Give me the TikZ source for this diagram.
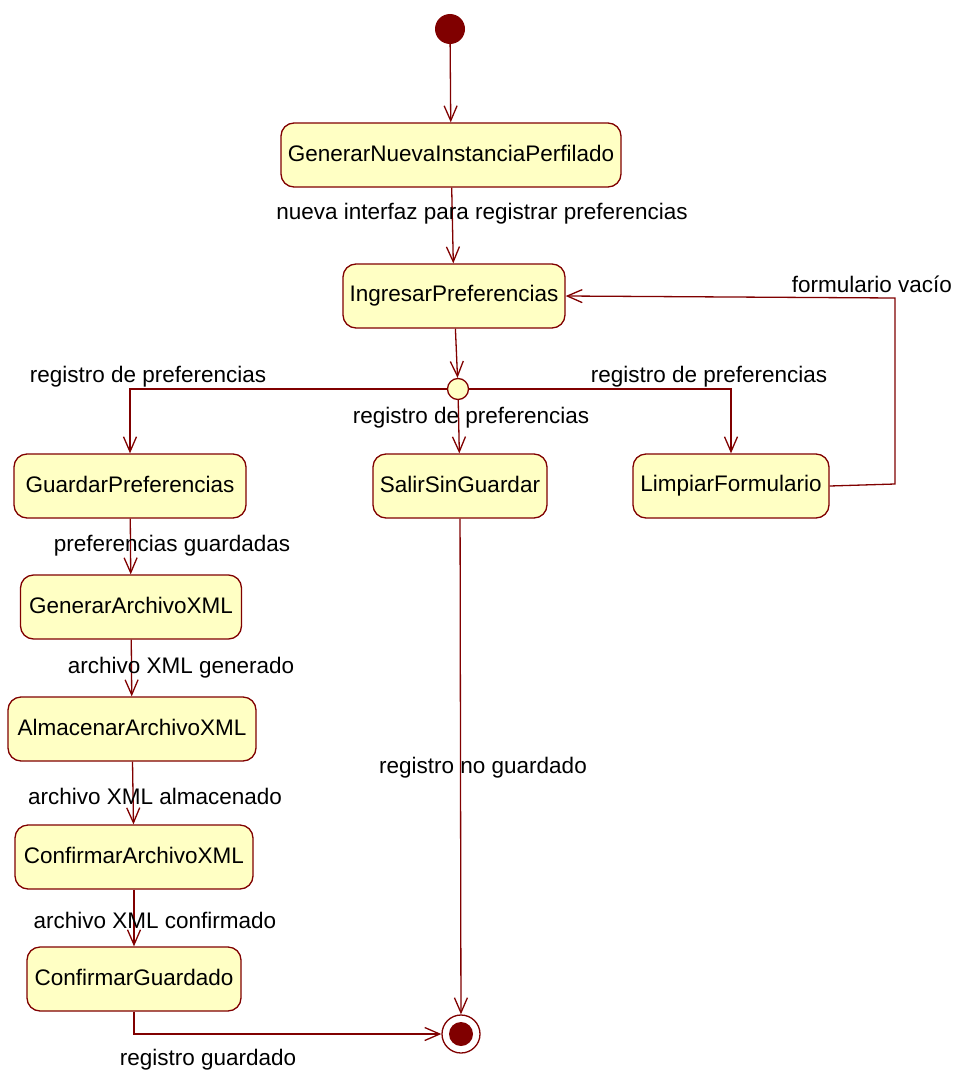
\documentclass[tikz,border=0pt]{standalone}
\usepackage{fontspec}
\setmainfont{Liberation Sans}
\usetikzlibrary{arrows.meta}
\definecolor{umlred}{HTML}{800000}
\definecolor{umlfill}{HTML}{FFFFC4}
\newcommand{\stxt}[1]{\raisebox{4pt}{#1}}
\begin{document}
\begin{tikzpicture}[x=1pt,y=-1pt,
  every node/.style={font=\fontsize{22.5}{26}\selectfont},
  state/.style={draw=umlred, line width=1.3pt, fill=umlfill, rounded corners=13pt, minimum height=64pt, inner sep=0pt},
  lbl/.style={inner sep=0pt, anchor=center},
  conn/.style={draw=umlred, line width=1.3pt, -{Straight Barb[length=15pt,width=13pt,line width=1.3pt]}}
]
\useasboundingbox (0,0) rectangle (969,1073);
% nodes
\node[circle, fill=umlred, minimum size=30pt, inner sep=0pt] (ini) at (450,29) {};
\node[state, minimum width=340pt] (gen) at (451,155) {\stxt{GenerarNuevaInstanciaPerfilado}};
\node[state, minimum width=222pt] (ing) at (454,296) {\stxt{IngresarPreferencias}};
\node[circle, draw=umlred, line width=1.3pt, fill=umlfill, minimum size=21pt, inner sep=0pt] (dec) at (458,389) {};
\node[state, minimum width=232pt] (gua) at (130,486) {\stxt{GuardarPreferencias}};
\node[state, minimum width=174pt] (sal) at (460,486) {\stxt{SalirSinGuardar}};
\node[state, minimum width=196pt] (lim) at (731,486) {\stxt{LimpiarFormulario}};
\node[state, minimum width=221pt] (gxml) at (131,607) {\stxt{GenerarArchivoXML}};
\node[state, minimum width=248pt] (axml) at (132,729) {\stxt{AlmacenarArchivoXML}};
\node[state, minimum width=238pt] (cxml) at (134,857) {\stxt{ConfirmarArchivoXML}};
\node[state, minimum width=214pt] (cg) at (134,979) {\stxt{ConfirmarGuardado}};
\node[circle, draw=umlred, line width=1.3pt, fill=white, minimum size=38pt, inner sep=0pt] (fin) at (461,1034) {};
\node[circle, fill=umlred, minimum size=24pt, inner sep=0pt] (finin) at (461,1034) {};
% connectors
\draw[conn] (ini) -- (gen);
\draw[conn] (gen) -- (ing);
\draw[conn] (ing) -- (dec);
\draw[conn] (dec.west) -| (gua.north);
\draw[conn] (dec) -- (sal);
\draw[conn] (dec.east) -| (lim.north);
\coordinate (lr1) at (895,484);
\coordinate (lr2) at (895,298);
\draw[conn] (lim.east) -- (lr1) -- (lr2) -- (ing.east);
\draw[conn] (sal) -- (fin);
\draw[conn] (gua) -- (gxml);
\draw[conn] (gxml) -- (axml);
\draw[conn] (axml) -- (cxml);
\draw[conn] (cxml) -- (cg);
\draw[conn] (cg.south) |- (fin.west);
% labels
\node[lbl] (l1) at (482,214) {nueva interfaz para registrar preferencias};
\node[lbl] (l2) at (148,377) {registro de preferencias};
\node[lbl] (l3) at (471,418) {registro de preferencias};
\node[lbl] (l4) at (709,377) {registro de preferencias};
\node[lbl] (l5) at (872,284) {formulario vacío};
\node[lbl] (l6) at (483,768) {registro no guardado};
\node[lbl] (l7) at (172,546) {preferencias guardadas};
\node[lbl] (l8) at (181,668) {archivo XML generado};
\node[lbl] (l9) at (155,796) {archivo XML almacenado};
\node[lbl] (l10) at (155,920) {archivo XML confirmado};
\node[lbl] (l11) at (208,1060) {registro guardado};
\end{tikzpicture}
\end{document}
